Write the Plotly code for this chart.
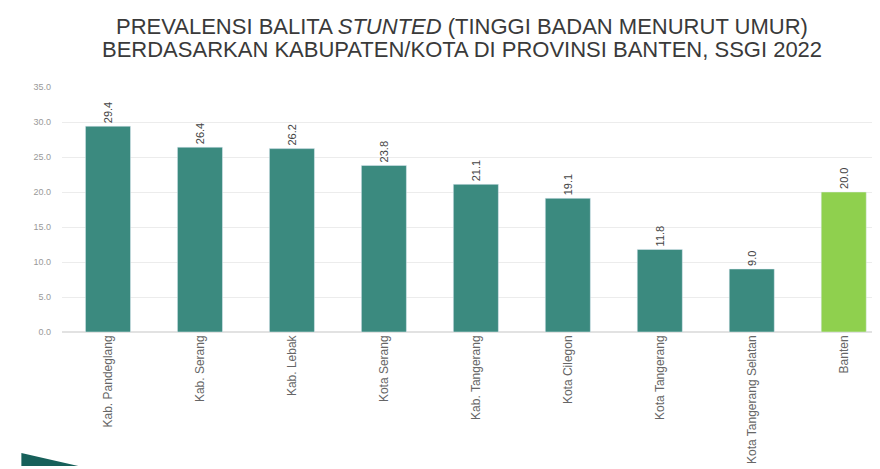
import plotly.graph_objects as go

categories = ["Kab. Pandeglang", "Kab. Serang", "Kab. Lebak", "Kota Serang",
              "Kab. Tangerang", "Kota Cilegon", "Kota Tangerang",
              "Kota Tangerang Selatan", "Banten"]
values = [29.4, 26.4, 26.2, 23.8, 21.1, 19.1, 11.8, 9.0, 20.0]
y_ticks = [0, 5, 10, 15, 20, 25, 30, 35]
title_lines = ["PREVALENSI BALITA <i>STUNTED</i> (TINGGI BADAN MENURUT UMUR)",
               "BERDASARKAN KABUPATEN/KOTA DI PROVINSI BANTEN, SSGI 2022"]

teal = "#3b8a7f"
green = "#8fd04e"
colors = [teal] * 8 + [green]

fig = go.Figure(go.Bar(
    x=categories, y=values, marker_color=colors, width=0.49,
    texttemplate="%{y:.1f}", textposition="outside", textangle=-90,
    textfont=dict(size=11, color="#444", family="Liberation Sans"),
    cliponaxis=False,
))

fig.update_layout(
    width=872, height=461,
    margin=dict(l=54, r=5, t=79, b=135),
    paper_bgcolor="white", plot_bgcolor="white",
    font=dict(family="Liberation Sans"),
    showlegend=False,
)
for txt, yy in zip(title_lines, [1.247, 1.152]):
    fig.add_annotation(
        text=txt, xref="paper", yref="paper", x=0.492, y=yy,
        xanchor="center", yanchor="middle", showarrow=False,
        font=dict(family="Liberation Sans", size=22, color="#3a3a3a"),
    )
fig.update_xaxes(
    range=[-0.5, 8.34], tickangle=-90,
    tickfont=dict(size=12, color="#666"), showgrid=False, showline=False,
    ticks="",
)
fig.update_yaxes(
    range=[0, 35], tickvals=y_ticks, tickformat=".1f",
    tickfont=dict(size=9, color="#999"), gridcolor="#ececec",
    zeroline=True, zerolinecolor="#e2e2e2", showline=False,
    ticklabelstandoff=10,
)
fig.add_shape(
    type="path", xref="paper", yref="paper",
    path="M -0.05,-0.494 L 0.02,-0.547 L -0.05,-0.547 Z",
    fillcolor="#17605a", line=dict(width=0), layer="above",
)
fig.write_html("out.html")
